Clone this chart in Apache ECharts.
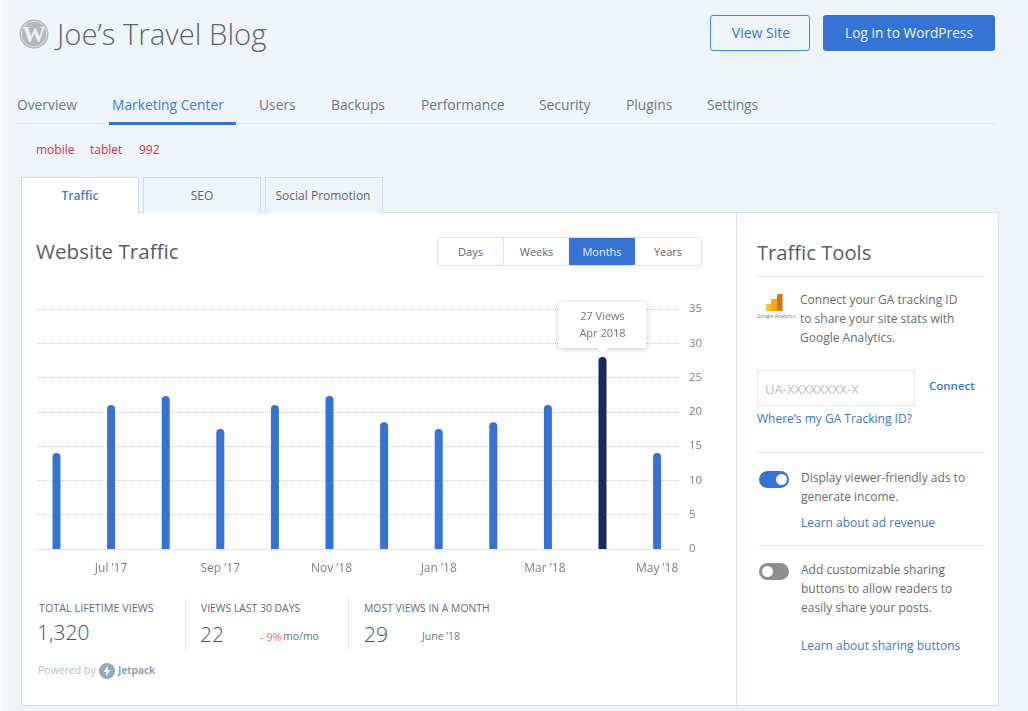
<!DOCTYPE html>
<html lang="en">
<head>
<meta charset="UTF-8">
<title>Joe's Travel Blog</title>
<script src="https://cdn.jsdelivr.net/npm/echarts@6/dist/echarts.min.js"></script>
<style>
html,body{margin:0;padding:0}
body{width:1028px;height:711px;overflow:hidden;background:#eff4f8;position:relative;font-family:"Open Sans",sans-serif;color:#6a6a6a}
.t{position:absolute;white-space:nowrap;transform:translateY(-50%);font-size:12px;line-height:1}
.c{transform:translate(-50%,-50%)}
.b{position:absolute;box-sizing:border-box}
.link{color:#3a75c8}
.hr{position:absolute;height:1px;background:#e4e8ec}
.nav{font-size:13.8px;color:#6c7780}
.tab{position:absolute;top:177px;height:36px;width:118px;box-sizing:border-box;border:1px solid #cfdde8;border-bottom:0;background:#eff4f8}
.seg{position:absolute;top:0;height:27px;width:66px;line-height:27px;text-align:center;font-size:11px;font-weight:500;color:#5f6468;border-right:1px solid #e3e6e9;box-sizing:content-box}
.stat{font-size:10.4px;color:#5f6870}
.num{font-size:21px;color:#47525c;font-weight:300}
.tog{position:absolute;width:30px;height:17px;border-radius:9px}
.tog i{position:absolute;top:3px;width:11px;height:11px;border-radius:50%;background:#fff}
#chart{position:absolute;left:22px;top:290px;width:714px;height:300px}
</style>
</head>
<body>
<div class="b" style="left:0;top:0;width:2px;height:711px;background:#fff"></div>

<svg class="b" style="left:19px;top:19px" width="30" height="30" viewBox="0 0 30 30">
  <circle cx="15" cy="15" r="14.5" fill="#b5b9bc"/>
  <circle cx="15" cy="15" r="12.8" fill="none" stroke="#e6e8ea" stroke-width="0.8"/>
  <text x="15" y="23" text-anchor="middle" font-family="Liberation Serif" font-weight="700" font-size="23" fill="#eef0f2">W</text>
</svg>
<span class="t" style="left:57px;top:35px;font-size:29.3px;font-weight:300;color:#5b6670">Joe’s Travel Blog</span>

<div class="b" style="left:710px;top:15px;width:100px;height:36px;border:1px solid #4a86d8;border-radius:3px"></div>
<span class="t c link" style="left:761px;top:33px;font-size:14px">View Site</span>
<div class="b" style="left:823px;top:15px;width:172px;height:36px;background:#3373d4;border-radius:3px"></div>
<span class="t c" style="left:909px;top:33px;font-size:13.7px;color:#f2f6fc">Log in to WordPress</span>

<span class="t nav" style="left:17px;top:105px">Overview</span>
<span class="t nav" style="left:112px;top:105px;color:#3f7bd0">Marketing Center</span>
<span class="t nav" style="left:259px;top:105px">Users</span>
<span class="t nav" style="left:331px;top:105px">Backups</span>
<span class="t nav" style="left:421px;top:105px">Performance</span>
<span class="t nav" style="left:539px;top:105px">Security</span>
<span class="t nav" style="left:626px;top:105px">Plugins</span>
<span class="t nav" style="left:707px;top:105px">Settings</span>
<div class="hr" style="left:17px;top:123px;width:978px;background:#dde3e8"></div>
<div class="b" style="left:109px;top:122px;width:127px;height:3px;background:#3373c8"></div>

<span class="t" style="left:36px;top:150px;color:#c9304a">mobile</span>
<span class="t" style="left:90px;top:150px;color:#c9304a">tablet</span>
<span class="t" style="left:139px;top:150px;color:#c9304a">992</span>

<div class="b" style="left:21px;top:212px;width:978px;height:494px;background:#fff;border:1px solid #d5e2ec"></div>
<div class="b" style="left:736px;top:212px;width:1px;height:494px;background:#d5e2ec"></div>
<div class="tab" style="left:21px;background:#fff;height:37px"></div>
<div class="tab" style="left:143px"></div>
<div class="tab" style="left:265px"></div>
<span class="t c" style="left:80px;top:196px;font-weight:600;color:#3f7bd0">Traffic</span>
<span class="t c" style="left:202px;top:196px;font-weight:500;color:#5f6468">SEO</span>
<span class="t c" style="left:323px;top:196px;font-weight:500;color:#5f6468">Social Promotion</span>

<span class="t" style="left:36px;top:251px;font-size:20.6px;color:#585d62">Website Traffic</span>
<div class="b" style="left:437px;top:237px;width:265px;height:29px;border:1px solid #dfe3e6;border-radius:3px">
  <div class="seg" style="left:0;width:65px">Days</div>
  <div class="seg" style="left:66px;width:65px">Weeks</div>
  <div class="seg" style="left:131px;width:66px;background:#3373d4;color:#eef4fc;border-right:0">Months</div>
  <div class="seg" style="left:197px;border-right:0">Years</div>
</div>

<div id="chart"></div>

<span class="t stat" style="left:39px;top:608px;font-size:10.8px">TOTAL LIFETIME VIEWS</span>
<span class="t num" style="left:37px;top:632px">1,320</span>
<div class="b" style="left:185px;top:596px;width:1px;height:54px;background:#e4e8ec"></div>
<span class="t stat" style="left:201px;top:608px">VIEWS LAST 30 DAYS</span>
<span class="t num" style="left:200px;top:634px">22</span>
<span class="t" style="left:260px;top:636px;font-size:11px;color:#ee6a6a">- 9%</span>
<span class="t" style="left:283px;top:636px;font-size:10.5px;color:#6b747c">mo/mo</span>
<div class="b" style="left:348px;top:596px;width:1px;height:54px;background:#e4e8ec"></div>
<span class="t stat" style="left:364px;top:608px">MOST VIEWS IN A MONTH</span>
<span class="t num" style="left:364px;top:634px">29</span>
<span class="t" style="left:422px;top:636px;font-size:10.5px;color:#6b747c">June ’18</span>
<span class="t" style="left:38px;top:670px;font-size:10.5px;color:#b4bfc8">Powered by</span>
<svg class="b" style="left:99px;top:663px" width="16" height="16" viewBox="0 0 16 16">
  <circle cx="8" cy="8" r="8" fill="#8fa9bd"/>
  <path d="M8.8 2.5 4.5 9h3l-.6 4.5L11.5 7h-3z" fill="#fff"/>
</svg>
<span class="t" style="left:118px;top:670px;font-size:10px;font-weight:700;color:#8fa2b2">Jetpack</span>

<span class="t" style="left:757px;top:252px;font-size:20.2px;color:#585d62">Traffic Tools</span>
<div class="hr" style="left:757px;top:276px;width:228px"></div>
<svg class="b" style="left:766px;top:294px" width="17" height="18" viewBox="0 0 17 18">
  <rect x="0" y="10" width="6" height="7" rx="1" fill="#f9c232"/>
  <rect x="5" y="5" width="6" height="12" fill="#f9ab00"/>
  <rect x="11" y="0" width="5.5" height="17" rx="1" fill="#e37400"/>
</svg>
<span class="t" style="left:757px;top:316px;font-size:5px;color:#777">Google Analytics</span>
<span class="t" style="left:800px;top:300px">Connect your GA tracking ID</span>
<span class="t" style="left:800px;top:319px">to share your site stats with</span>
<span class="t" style="left:800px;top:338px">Google Analytics.</span>
<div class="b" style="left:757px;top:370px;width:158px;height:36px;border:1px solid #e6e8ea"></div>
<span class="t" style="left:765px;top:389px;font-size:13px;color:#bcc0c4">UA-XXXXXXXX-X</span>
<span class="t link" style="left:929px;top:386px;font-size:11.5px;font-weight:600">Connect</span>
<span class="t link" style="left:757px;top:419px">Where’s my GA Tracking ID?</span>
<div class="hr" style="left:757px;top:452px;width:228px"></div>
<div class="tog" style="left:759px;top:471px;background:#3373d4"><i style="left:17px"></i></div>
<span class="t" style="left:801px;top:478px">Display viewer-friendly ads to</span>
<span class="t" style="left:801px;top:497px">generate income.</span>
<span class="t link" style="left:801px;top:523px">Learn about ad revenue</span>
<div class="hr" style="left:757px;top:545px;width:228px"></div>
<div class="tog" style="left:759px;top:563px;background:#8e8e8e"><i style="left:3px"></i></div>
<span class="t" style="left:801px;top:570px">Add customizable sharing</span>
<span class="t" style="left:801px;top:589px">buttons to allow readers to</span>
<span class="t" style="left:801px;top:608px">easily share your posts.</span>
<span class="t link" style="left:801px;top:646px">Learn about sharing buttons</span>

<script>
var months = ["Jun ’17","Jul ’17","Aug ’17","Sep ’17","Oct ’17","Nov ’18","Dec ’17","Jan ’18","Feb ’18","Mar ’18","Apr ’18","May ’18"]
var views = [14,21,22.3,17.5,21,22.3,18.5,17.5,18.5,21,28,14]
var yTicks = [0,35,5]
var activeMonth = "Apr ’18"
var tipLines = ["27 Views","Apr 2018"]

var chart = echarts.init(document.getElementById("chart"))
var font = '"Open Sans", sans-serif'

var barData = months.map(function (m, i) {
    if (m != activeMonth) return views[i]
    return {
        value: views[i],
        itemStyle: { color: "#16295e" },
        label: {
            show: true,
            position: "top",
            distance: 9,
            formatter: tipLines.join("\n"),
            width: 88,
            height: 34,
            align: "center",
            padding: [6, 0],
            lineHeight: 17,
            fontFamily: font,
            fontSize: 11,
            color: "#777",
            backgroundColor: "#fff",
            borderRadius: 3,
            shadowColor: "rgba(0,0,0,0.22)",
            shadowBlur: 6,
            shadowOffsetY: 1
        }
    }
})

var xLabel = { fontFamily: font, fontSize: 12, color: "#7b7f83" }

chart.setOption({
    animation: false,
    grid: [
        // the rules stop short of the outer half bands, so they get their own grid
        { left: 15, width: 643, top: 19, height: 240 },
        { left: 7.2, width: 655.2, top: 19, height: 240 }
    ],
    xAxis: [
        {
            gridIndex: 0, type: "value", min: 0, max: 1,
            axisLine: { show: true, lineStyle: { color: "#e3e6e9" } },
            axisTick: { show: false }, axisLabel: { show: false }, splitLine: { show: false }
        },
        {
            gridIndex: 1, type: "category", data: months,
            axisLine: { show: false }, axisTick: { show: false },
            axisLabel: {
                interval: function (i) { return i % 2 == 1 },
                margin: 14, fontFamily: font, fontSize: 12, color: "#7b7f83",
                // Nov and Mar sit a little off their bars in the original
                formatter: function (v) {
                    if (v.indexOf("Nov") == 0) return "{right|" + v + "}"
                    if (v.indexOf("Mar") == 0) return "{left|" + v + "}"
                    return v
                },
                rich: {
                    right: Object.assign({ padding: [0, 0, 0, 4] }, xLabel),
                    left: Object.assign({ padding: [0, 6, 0, 0] }, xLabel)
                }
            }
        }
    ],
    yAxis: [
        {
            gridIndex: 0, type: "value", position: "right",
            min: yTicks[0], max: yTicks[1], interval: yTicks[2],
            axisLine: { show: false }, axisTick: { show: false },
            axisLabel: { margin: 9, padding: [3, 0, 0, 0], fontFamily: font, fontSize: 11.5, color: "#7b7f83" },
            splitLine: { lineStyle: { type: "dotted", color: "#c8cccf", width: 1 } }
        },
        {
            gridIndex: 1, type: "value", min: yTicks[0], max: yTicks[1], show: false
        }
    ],
    series: [{
        type: "bar",
        xAxisIndex: 1,
        yAxisIndex: 1,
        barWidth: 8,
        itemStyle: { color: "#3373d4", borderRadius: [4, 4, 0, 0] },
        data: barData,
        markPoint: {
            silent: true,
            symbol: "triangle",
            symbolRotate: 180,
            symbolSize: [10, 5],
            symbolOffset: [0, -6.5],
            itemStyle: { color: "#fff" },
            label: { show: false },
            data: [{ coord: [activeMonth, views[months.indexOf(activeMonth)]] }]
        }
    }]
})
</script>
</body>
</html>
